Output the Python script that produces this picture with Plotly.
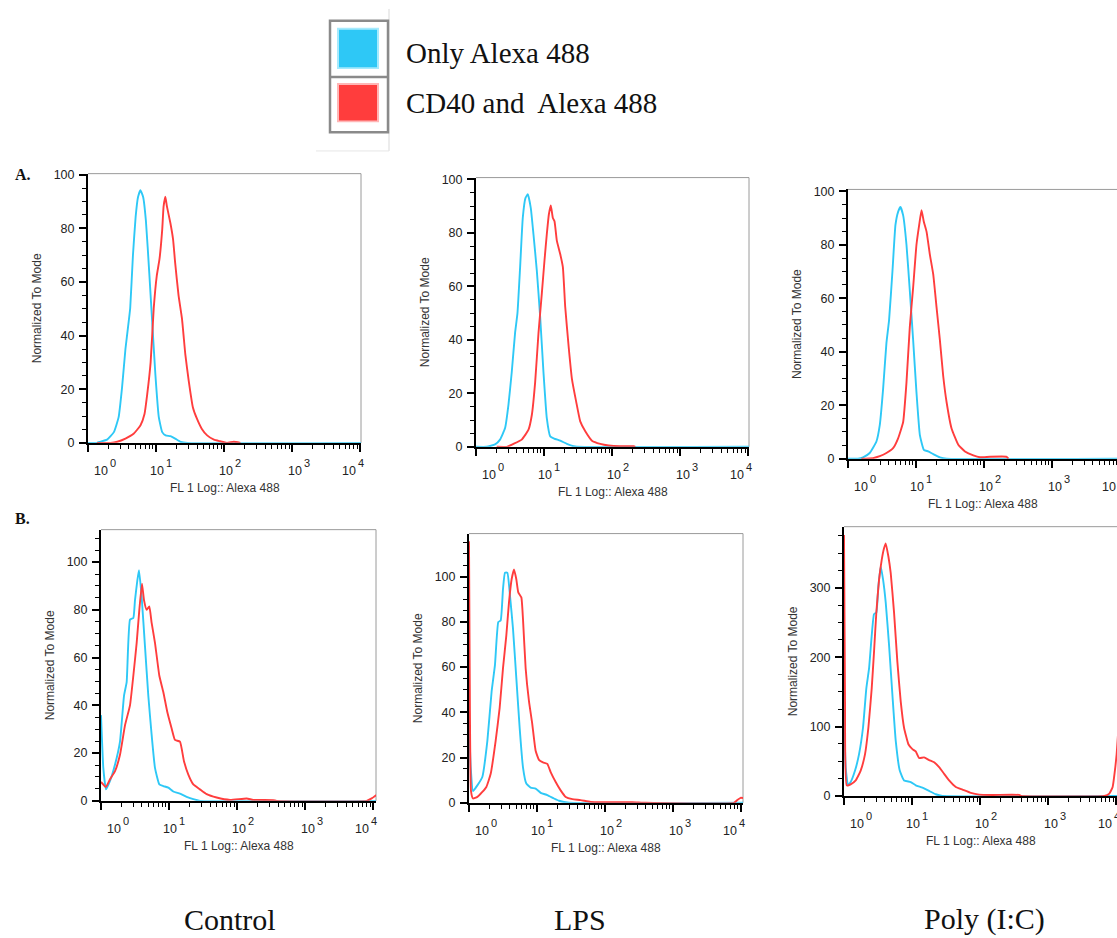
import numpy as np
import plotly.graph_objects as go

W, H = 1117, 938
CYAN = "#2ec8f6"
RED = "#ff3d3d"
SANS = "Liberation Sans, Arial, sans-serif"
SERIF = "Liberation Serif, Times New Roman, serif"

columns = ["Control", "LPS", "Poly (I:C)"]
rows = ["A.", "B."]
legend_labels = ["Only Alexa 488", "CD40 and\u00a0 Alexa 488"]
x_title = "FL 1 Log:: Alexa 488"
y_title = "Normalized To Mode"
decade_exponents = ["0", "1", "2", "3", "4"]

# ---- histogram traces: x in log10(FL1), y normalized to mode ----
# Row A, Control
a_ctrl_only_x = [0.0, 0.13, 0.18, 0.28, 0.38, 0.45, 0.50, 0.55, 0.59, 0.62, 0.66, 0.70, 0.735, 0.77,
                 0.81, 0.85, 0.90, 0.95, 0.99, 1.04, 1.09, 1.14, 1.21, 1.28, 1.36, 1.46, 4.02]
a_ctrl_only_y = [0, 0, 0.4, 1.2, 4.0, 9.6, 20.6, 35.0, 43.6, 50.3, 69.9, 84.4, 91.7, 94.2,
                 91.7, 83.0, 63.4, 42.0, 25.4, 9.6, 4.0, 2.8, 2.5, 1.6, 0.4, 0, 0]
a_ctrl_cd40_x = [0.13, 0.33, 0.43, 0.55, 0.67, 0.77, 0.83, 0.87, 0.92, 0.965, 1.01, 1.05, 1.09, 1.11,
                 1.136, 1.16, 1.21, 1.25, 1.28, 1.33, 1.38, 1.43, 1.48, 1.54, 1.60, 1.67, 1.75, 1.85,
                 1.94, 2.04, 2.14, 2.24]
a_ctrl_cd40_y = [0, 0, 0.4, 1.6, 3.4, 6.5, 10.8, 18.2, 30.0, 50.0, 62.3, 68.5, 79.5, 88.1,
                 91.8, 88.1, 82.0, 75.8, 67.2, 55.0, 46.4, 32.9, 23.0, 13.3, 9.0, 5.3, 2.8, 1.2,
                 0.6, 0, 0.4, 0]

# Row A, LPS
a_lps_only_x = [0.0, 0.157, 0.28, 0.353, 0.427, 0.476, 0.525, 0.574, 0.609, 0.648, 0.687, 0.726, 0.761,
                0.805, 0.844, 0.893, 0.942, 0.991, 1.04, 1.09, 1.148, 1.237, 1.335, 1.433, 1.482, 4.02]
a_lps_only_y = [0, 0, 0.9, 2.7, 7.0, 15.6, 27.9, 42.6, 50.0, 67.2, 85.6, 93.0, 94.5,
                89.3, 79.5, 66.0, 48.8, 27.9, 10.7, 3.9, 3.1, 2.3, 1.1, 0.2, 0, 0]
a_lps_cd40_x = [0.304, 0.452, 0.55, 0.672, 0.771, 0.82, 0.869, 0.918, 0.967, 1.006, 1.04, 1.07, 1.099,
                1.129, 1.153, 1.188, 1.237, 1.276, 1.31, 1.36, 1.409, 1.472, 1.531, 1.605, 1.703,
                1.826, 1.948, 2.12, 2.317, 2.341]
a_lps_cd40_y = [0, 0, 1.1, 2.7, 6.4, 11.9, 24.2, 42.6, 57.4, 69.7, 79.5, 86.9, 90.3,
                85.6, 84.4, 77.0, 72.1, 67.2, 52.5, 37.7, 25.4, 16.8, 9.5, 5.8, 2.3,
                1.1, 0.5, 0.2, 0.2, 0]

# Row A, Poly (I:C)
a_poly_only_x = [0.0, 0.147, 0.221, 0.319, 0.418, 0.467, 0.516, 0.565, 0.604, 0.654, 0.698, 0.737, 0.771,
                 0.811, 0.86, 0.909, 0.958, 1.007, 1.057, 1.115, 1.179, 1.253, 1.351, 1.45, 4.02]
a_poly_only_y = [0, 0, 0.5, 2.1, 6.4, 12.5, 26.0, 43.2, 51.8, 70.2, 87.4, 92.3, 94.1,
                 91.0, 80.0, 62.8, 44.4, 24.8, 8.8, 3.3, 2.7, 1.7, 0.5, 0, 0]
a_poly_cd40_x = [0.197, 0.369, 0.467, 0.565, 0.663, 0.737, 0.811, 0.86, 0.909, 0.958, 1.007, 1.047, 1.081,
                 1.115, 1.155, 1.204, 1.253, 1.302, 1.351, 1.40, 1.45, 1.523, 1.622, 1.72, 1.843,
                 1.941, 2.088, 2.334, 2.359]
a_poly_cd40_y = [0, 0.2, 0.9, 2.1, 3.9, 7.6, 13.7, 28.5, 49.3, 64.0, 80.0, 87.4, 92.9,
                 88.6, 84.9, 76.3, 69.0, 56.7, 44.4, 30.9, 21.1, 11.3, 5.2, 2.7, 1.2,
                 0.5, 0.7, 0.7, 0]

# Row B, Control
b_ctrl_only_x = [0.0, 0.034, 0.073, 0.132, 0.206, 0.279, 0.338, 0.377, 0.426, 0.475, 0.499, 0.534, 0.558,
                 0.597, 0.646, 0.695, 0.744, 0.793, 0.857, 0.916, 0.989, 1.062, 1.16, 1.258, 1.356,
                 1.454, 4.05]
b_ctrl_only_y = [35.9, 13.8, 4.8, 8.3, 15.2, 24.8, 44.0, 49.7, 75.9, 76.6, 84.0, 92.4, 96.6,
                 85.5, 64.8, 44.0, 27.6, 13.8, 6.9, 6.2, 5.5, 3.9, 3.0, 1.7, 0.7,
                 0, 0]
b_ctrl_cd40_x = [0.0, 0.073, 0.132, 0.206, 0.279, 0.353, 0.426, 0.475, 0.524, 0.563, 0.602, 0.632, 0.671,
                 0.71, 0.744, 0.793, 0.857, 0.916, 0.974, 1.038, 1.087, 1.16, 1.219, 1.283, 1.356,
                 1.454, 1.552, 1.699, 1.895, 2.14, 2.237, 2.531, 2.58, 3.902, 3.976, 4.05]
b_ctrl_cd40_y = [7.9, 5.8, 9.0, 12.4, 19.3, 31.7, 40.0, 52.4, 66.2, 80.0, 91.0, 84.0, 80.0,
                 81.4, 74.5, 66.2, 52.4, 45.5, 37.2, 30.3, 25.5, 24.8, 16.6, 11.0, 6.9,
                 4.8, 2.8, 1.4, 0.4, 1.0, 0.4, 0.3, 0, 0, 1.0, 2.5]

# Row B, LPS
b_lps_only_x = [0.0, 0.025, 0.059, 0.123, 0.196, 0.27, 0.333, 0.382, 0.431, 0.466, 0.5, 0.529, 0.564,
                0.603, 0.647, 0.696, 0.745, 0.794, 0.843, 0.907, 0.98, 1.054, 1.152, 1.25, 1.324,
                1.471, 4.05]
b_lps_only_y = [37.6, 15.7, 5.2, 7.7, 11.4, 27.4, 49.3, 61.0, 79.9, 80.6, 94.5, 101.7, 101.7,
                91.5, 77.0, 55.1, 33.2, 15.7, 8.5, 6.7, 6.3, 4.4, 3.4, 1.9, 0.9,
                0, 0]
b_lps_cd40_x = [0.0, 0.01, 0.03, 0.059, 0.123, 0.196, 0.255, 0.319, 0.392, 0.451, 0.5, 0.549, 0.588,
                0.627, 0.662, 0.696, 0.725, 0.77, 0.794, 0.833, 0.882, 0.931, 0.98, 1.029, 1.088,
                1.152, 1.201, 1.275, 1.348, 1.422, 1.52, 1.642, 1.789, 2.01, 2.402, 2.598, 3.897,
                3.946, 3.995, 4.05]
b_lps_cd40_y = [115.6, 60.0, 5.0, 1.9, 2.6, 4.8, 7.0, 12.8, 27.4, 42.0, 59.5, 74.0, 88.6,
                98.8, 103.2, 98.8, 93.0, 90.8, 81.3, 59.5, 44.9, 34.7, 23.0, 19.0, 17.9,
                17.2, 13.6, 9.2, 5.5, 2.6, 1.6, 1.2, 0.4, 0.3, 0.3, 0, 0,
                1.2, 2.2, 2.0]

# Row B, Poly (I:C)
b_poly_only_x = [0.0, 0.025, 0.059, 0.098, 0.162, 0.221, 0.279, 0.328, 0.368, 0.407, 0.441, 0.475, 0.505,
                 0.539, 0.574, 0.613, 0.662, 0.711, 0.76, 0.819, 0.882, 0.98, 1.054, 1.152, 1.25,
                 1.348, 1.446, 4.05]
b_poly_only_y = [124.3, 41.0, 15.2, 20.0, 36.5, 60.3, 98.2, 155.0, 183.7, 231.0, 262.0, 264.4, 302.3,
                 330.8, 311.8, 278.6, 216.9, 145.7, 79.3, 36.5, 22.3, 19.9, 15.2, 11.9, 7.1,
                 2.4, 0, 0]
b_poly_cd40_x = [0.0, 0.015, 0.039, 0.098, 0.172, 0.245, 0.309, 0.358, 0.407, 0.441, 0.475, 0.515, 0.554,
                 0.588, 0.613, 0.652, 0.686, 0.735, 0.784, 0.833, 0.882, 0.946, 1.005, 1.054, 1.103,
                 1.176, 1.25, 1.324, 1.397, 1.471, 1.544, 1.642, 1.74, 1.863, 1.985, 2.181, 2.574,
                 2.598, 3.824, 3.897, 3.946, 3.985, 4.005, 4.025]
b_poly_cd40_y = [375.9, 136.0, 15.2, 16.6, 22.3, 36.5, 60.3, 98.2, 155.0, 207.4, 264.4, 311.8, 340.3,
                 357.0, 364.0, 345.0, 321.3, 264.4, 193.2, 136.2, 98.2, 74.5, 67.4, 64.1, 54.6,
                 55.5, 51.7, 48.4, 41.3, 31.8, 22.3, 12.8, 9.0, 4.3, 1.9, 1.4, 1.4,
                 0, 0, 3.3, 12.8, 41.3, 60.3, 88.7]

# ---- panel layout (pixel boxes: left, right, top, bottom) ----
panels = [
    dict(box=(88, 361, 170, 443), xmax=4.01, ymax=100.4, ymajor=20, yminor=5, ytop=100, right=True,
         only=(a_ctrl_only_x, a_ctrl_only_y), cd40=(a_ctrl_cd40_x, a_ctrl_cd40_y)),
    dict(box=(476, 749, 174, 447), xmax=4.01, ymax=100.7, ymajor=20, yminor=5, ytop=100, right=True,
         only=(a_lps_only_x, a_lps_only_y), cd40=(a_lps_cd40_x, a_lps_cd40_y)),
    dict(box=(848, 1117, 186, 459), xmax=3.956, ymax=100.7, ymajor=20, yminor=5, ytop=100, right=False,
         only=(a_poly_only_x, a_poly_only_y), cd40=(a_poly_cd40_x, a_poly_cd40_y)),
    dict(box=(101, 376, 531, 806), xmax=4.04, ymax=113.6, ymajor=20, yminor=5, ytop=100, right=True,
         only=(b_ctrl_only_x, b_ctrl_only_y), cd40=(b_ctrl_cd40_x, b_ctrl_cd40_y)),
    dict(box=(469, 743, 535, 808), xmax=4.03, ymax=119.0, ymajor=20, yminor=5, ytop=100, right=True,
         only=(b_lps_only_x, b_lps_only_y), cd40=(b_lps_cd40_x, b_lps_cd40_y)),
    dict(box=(844, 1117, 528, 801), xmax=4.01, ymax=388.0, ymajor=100, yminor=25, ytop=300, right=False,
         only=(b_poly_only_x, b_poly_only_y), cd40=(b_poly_cd40_x, b_poly_cd40_y)),
]

# decade label offsets along the axis (pixels)
label_shift = [13, 1, 2, 3, -11]
decades = [0, 1, 2, 3, 4]
minor_decade_ticks = [n + np.log10(k) for n in range(4) for k in range(2, 10)]


def px(x):
    return x / W


def py(y):
    return 1 - y / H


fig = go.Figure()
layout = dict(
    width=W, height=H, margin=dict(l=0, r=0, t=0, b=0),
    paper_bgcolor="white", plot_bgcolor="white", showlegend=False,
)
shapes = []
annotations = []

for i, p in enumerate(panels):
    n = "" if i == 0 else str(i + 1)
    xa, ya = "x" + n, "y" + n
    l, r, t, b = p["box"]
    layout["xaxis" + n] = dict(
        domain=[px(l), px(r)], range=[0, p["xmax"]], anchor=ya,
        showgrid=False, zeroline=False, showline=True, linecolor="black", linewidth=2,
        ticks="outside", ticklen=7, tickwidth=2, tickcolor="black",
        tickvals=decades, showticklabels=False, layer="below traces",
        minor=dict(tickvals=minor_decade_ticks, ticks="outside", ticklen=4, tickwidth=1, tickcolor="black"),
    )
    layout["yaxis" + n] = dict(
        domain=[py(b), py(t)], range=[0, p["ymax"]], anchor=xa,
        showgrid=False, zeroline=False, showline=True, linecolor="black", linewidth=2,
        ticks="outside", ticklen=7, tickwidth=2, tickcolor="black",
        tickvals=list(range(0, p["ytop"] + 1, p["ymajor"])),
        tickfont=dict(family=SANS, size=12.5, color="#222"), ticklabelstandoff=2,
        layer="below traces",
        minor=dict(dtick=p["yminor"], tick0=0, ticks="outside", ticklen=4, tickwidth=1, tickcolor="black"),
    )

    for (xs, ys), color in ((p["only"], CYAN), (p["cd40"], RED)):
        fig.add_trace(go.Scatter(
            x=xs, y=ys, xaxis=xa, yaxis=ya, mode="lines",
            line=dict(color=color, width=1.9, shape="spline", smoothing=0.4),
            hoverinfo="skip",
        ))

    # light frame on the top (and right) side of each plot
    path = "M 0 1 L 1 1 L 1 0" if p["right"] else "M 0 1 L 1 1"
    shapes.append(dict(type="path", path=path, xref=xa + " domain", yref=ya + " domain",
                       line=dict(color="#9a9a9a", width=1), layer="below"))

    # decade tick labels: "10" with a raised exponent
    for d, ex, sh in zip(decades, decade_exponents, label_shift):
        annotations.append(dict(
            text="10", x=d / p["xmax"], y=0, xref=xa + " domain", yref=ya + " domain",
            xanchor="center", yanchor="middle", xshift=sh, yshift=-28, showarrow=False,
            font=dict(family=SANS, size=12.5, color="#222"),
        ))
        annotations.append(dict(
            text=ex, x=d / p["xmax"], y=0, xref=xa + " domain", yref=ya + " domain",
            xanchor="left", yanchor="middle", xshift=sh + 7, yshift=-20, showarrow=False,
            font=dict(family=SANS, size=11, color="#222"),
        ))
    # axis titles
    annotations.append(dict(
        text=x_title, x=0.5, y=0, xref=xa + " domain", yref=ya + " domain",
        xanchor="center", yanchor="middle", yshift=-45, showarrow=False,
        font=dict(family=SANS, size=12, color="#333"),
    ))
    annotations.append(dict(
        text=y_title, x=0, y=0.5, xref=xa + " domain", yref=ya + " domain",
        xanchor="center", yanchor="middle", xshift=-51, textangle=-90, showarrow=False,
        font=dict(family=SANS, size=12, color="#333"),
    ))

# row markers
for label, yy in zip(rows, [171, 520]):
    annotations.append(dict(text="<b>" + label + "</b>", x=px(13), y=py(yy), xref="paper", yref="paper",
                            xanchor="left", yanchor="middle", showarrow=False,
                            font=dict(family=SERIF, size=16, color="#111")))

# column names
for label, xx in zip(columns, [230, 580, 984]):
    annotations.append(dict(text=label, x=px(xx), y=py(926), xref="paper", yref="paper",
                            xanchor="center", yanchor="middle", showarrow=False,
                            font=dict(family=SERIF, size=30, color="#111")))

# legend key
shapes += [
    dict(type="line", xref="paper", yref="paper", x0=px(389), x1=px(389), y0=py(3), y1=py(147),
         line=dict(color="#d9d9d9", width=1)),
    dict(type="line", xref="paper", yref="paper", x0=px(316), x1=px(389), y0=py(147), y1=py(147),
         line=dict(color="#e6e6e6", width=1)),
    dict(type="rect", xref="paper", yref="paper", x0=px(330), x1=px(388), y0=py(15), y1=py(128),
         line=dict(color="#8a8a8a", width=2.5)),
    dict(type="line", xref="paper", yref="paper", x0=px(330), x1=px(388), y0=py(72), y1=py(72),
         line=dict(color="#8a8a8a", width=2.5)),
]
for color, soft, (y0, y1) in ((CYAN, "rgba(0,195,250,0.35)", (23, 63)), (RED, "rgba(255,45,45,0.35)", (79, 117))):
    shapes.append(dict(type="rect", xref="paper", yref="paper", x0=px(337), x1=px(379), y0=py(y0 - 1),
                       y1=py(y1 + 1), line=dict(width=0), fillcolor=soft))
    shapes.append(dict(type="rect", xref="paper", yref="paper", x0=px(339), x1=px(377), y0=py(y0 + 1),
                       y1=py(y1 - 1), line=dict(width=0), fillcolor=color))
for label, yy in zip(legend_labels, [48, 98]):
    annotations.append(dict(text=label, x=px(404), y=py(yy), xref="paper", yref="paper",
                            xanchor="left", yanchor="middle", showarrow=False,
                            font=dict(family=SERIF, size=29, color="#111")))

layout["shapes"] = shapes
layout["annotations"] = annotations
fig.update_layout(**layout)
fig.write_html("out.html")
